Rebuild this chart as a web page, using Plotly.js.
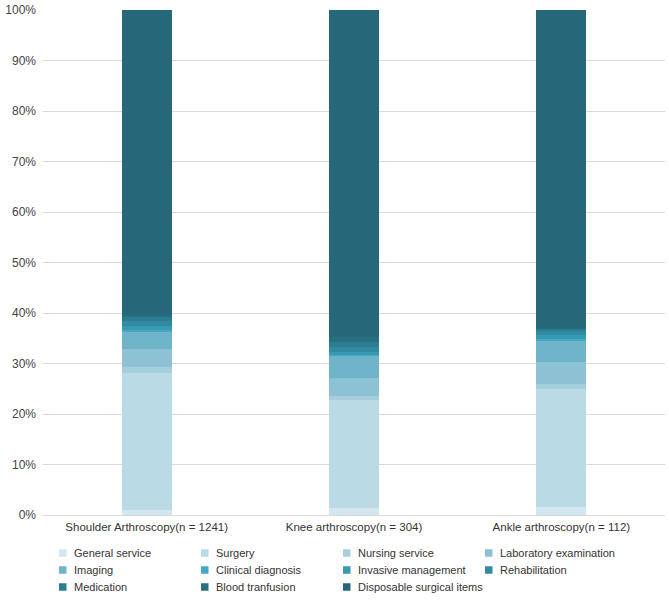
<!DOCTYPE html>
<html>
<head>
<meta charset="utf-8">
<script src="https://cdn.plot.ly/plotly-3.0.1.min.js"></script>
<style>
  html, body { margin: 0; padding: 0; background: #ffffff; }
  #chart { width: 669px; height: 602px; }
</style>
</head>
<body>
<div id="chart"></div>
<script>
// Procedure groups on the x axis
const groups = [
  'Shoulder Arthroscopy(n = 1241)',
  'Knee arthroscopy(n = 304)',
  'Ankle arthroscopy(n = 112)'
];

// Cost categories, bottom to top of each stack
const categories = [
  'General service', 'Surgery', 'Nursing service', 'Laboratory examination',
  'Imaging', 'Clinical diagnosis', 'Invasive management', 'Rehabilitation',
  'Medication', 'Blood tranfusion', 'Disposable surgical items'
];

// Share of total cost (%) per category, one value per group
const generalService   = [1.0, 1.3, 1.6];
const surgery          = [27.1, 21.4, 23.3];
const nursingService   = [1.2, 0.8, 1.1];
const laboratory       = [3.6, 3.7, 4.2];
const imaging          = [3.3, 4.2, 4.3];
const clinicalDiag     = [0.4, 0.3, 0.3];
const invasive         = [0.9, 0.6, 0.8];
const rehabilitation   = [1.0, 0.9, 0.9];
const medication       = [0.8, 1.1, 0.3];
const bloodTransfusion = [0.3, 1.0, 0.3];
const disposable       = [60.4, 64.7, 62.9];

const seriesValues = [
  generalService, surgery, nursingService, laboratory, imaging, clinicalDiag,
  invasive, rehabilitation, medication, bloodTransfusion, disposable
];

const colors = [
  '#d2e7ef', '#badae6', '#a6cfde', '#8dc1d4', '#70b4ca', '#45a9c4',
  '#3799b3', '#2f8aa2', '#2b7d93', '#296f84', '#26687a'
];

const traces = categories.map((name, i) => ({
  type: 'bar',
  name: name,
  x: groups,
  y: seriesValues[i],
  marker: { color: colors[i], line: { width: 0 } },
  hovertemplate: '%{x}<br>' + name + ': %{y:.1f}%<extra></extra>'
}));

// Page geometry (pixels) and plot area
const W = 669, H = 602;
const M = { l: 43, r: 4, t: 10, b: 87 };
const plotW = W - M.l - M.r, plotH = H - M.t - M.b;
const toPaperX = px => (px - M.l) / plotW;
const toPaperY = py => (H - M.b - py) / plotH;

// Legend grid: four columns, filled row by row
const legendCols = 4;
const legendColX = [59, 201, 343, 485];
const legendRowY = [553, 570, 587];
const swatch = 7.5;

const shapes = [];
const annotations = [];
categories.forEach((name, i) => {
  const cx = legendColX[i % legendCols];
  const cy = legendRowY[Math.floor(i / legendCols)];
  shapes.push({
    type: 'rect', xref: 'paper', yref: 'paper', layer: 'above',
    x0: toPaperX(cx), x1: toPaperX(cx + swatch),
    y0: toPaperY(cy + swatch / 2), y1: toPaperY(cy - swatch / 2),
    fillcolor: colors[i], line: { width: 0 }
  });
  annotations.push({
    xref: 'paper', yref: 'paper',
    x: toPaperX(cx + swatch + 5), y: toPaperY(cy),
    xanchor: 'left', yanchor: 'middle',
    text: name, showarrow: false,
    font: { size: 11, color: '#333333' }
  });
});

const layout = {
  width: W, height: H,
  margin: { l: M.l, r: M.r, t: M.t, b: M.b, autoexpand: false },
  paper_bgcolor: '#ffffff',
  plot_bgcolor: '#ffffff',
  font: { family: 'Liberation Sans, Arial, sans-serif', size: 12, color: '#333333' },
  barmode: 'stack',
  bargap: 0.76,
  showlegend: false,
  xaxis: {
    type: 'category',
    showgrid: false,
    showline: false,
    ticks: '',
    tickangle: 0,
    ticklabelstandoff: 3,
    tickfont: { size: 11.5, color: '#333333' },
    fixedrange: true
  },
  yaxis: {
    range: [0, 100],
    dtick: 10,
    ticksuffix: '%',
    showgrid: true,
    gridcolor: '#d9d9d9',
    gridwidth: 1,
    zeroline: true,
    zerolinecolor: '#d9d9d9',
    zerolinewidth: 1,
    tickfont: { size: 12, color: '#444444' },
    ticklabelstandoff: 6,
    fixedrange: true
  },
  shapes: shapes,
  annotations: annotations
};

Plotly.newPlot('chart', traces, layout, { displayModeBar: false, staticPlot: true });
</script>
</body>
</html>
